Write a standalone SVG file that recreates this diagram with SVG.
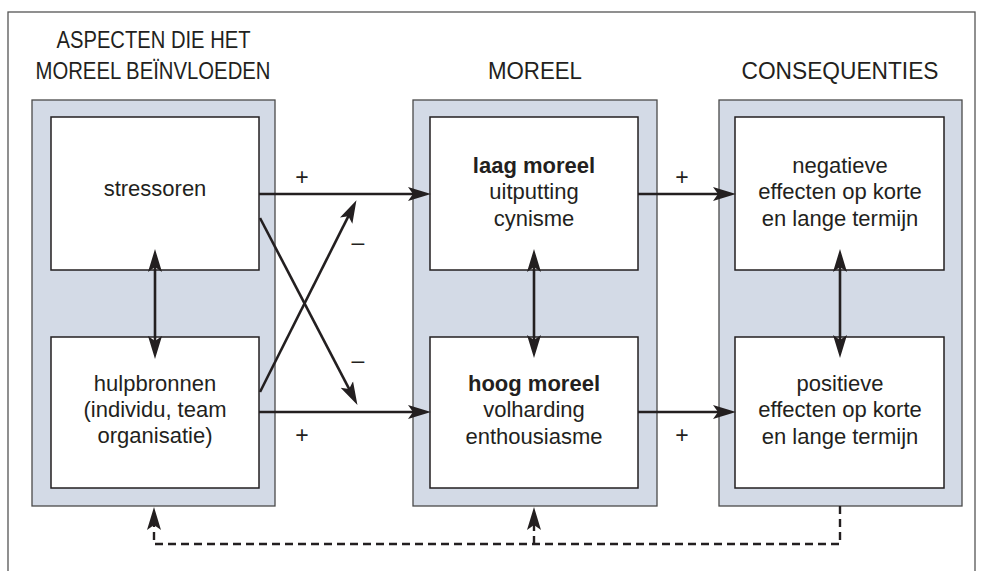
<svg xmlns="http://www.w3.org/2000/svg" width="983" height="571" viewBox="0 0 983 571">
<style>
  .frame{fill:none;stroke:#555;stroke-width:1.3}
  .panel{fill:#d3dae6;stroke:#4a4a4a;stroke-width:1.3}
  .box{fill:#fff;stroke:#231f20;stroke-width:1.5}
  .head{font-family:"Liberation Sans",Arial,sans-serif;font-size:24px;fill:#231f20;text-anchor:middle}
  .txt{font-family:"Liberation Sans",Arial,sans-serif;font-size:22px;fill:#231f20;text-anchor:middle}
  .b{font-weight:bold}
  .sign{font-family:"Liberation Sans",Arial,sans-serif;font-size:23px;fill:#231f20;text-anchor:middle}
  .ln{fill:none;stroke:#231f20;stroke-width:2.6}
  .dash{fill:none;stroke:#231f20;stroke-width:2.4;stroke-dasharray:8 5}
</style>
<defs>
  <marker id="ah" markerWidth="25" markerHeight="15" refX="16" refY="7.5" orient="auto-start-reverse" markerUnits="userSpaceOnUse">
    <path d="M0,0.5 L23,7.5 L0,14.5 L5,7.5 Z" fill="#231f20"/>
  </marker>
</defs>
<rect class="frame" x="8" y="12" width="967" height="575"/>

<g id="headings">
  <text class="head" x="153.5" y="48" textLength="194" lengthAdjust="spacingAndGlyphs">ASPECTEN DIE HET</text>
  <text class="head" x="153" y="79" textLength="235" lengthAdjust="spacingAndGlyphs">MOREEL BEÏNVLOEDEN</text>
  <text class="head" x="535" y="79" textLength="94" lengthAdjust="spacingAndGlyphs">MOREEL</text>
  <text class="head" x="840" y="79" textLength="197" lengthAdjust="spacingAndGlyphs">CONSEQUENTIES</text>
</g>

<g id="panel-aspecten"><rect class="panel" x="32" y="100" width="243" height="406"/></g>
<g id="panel-moreel"><rect class="panel" x="413" y="100" width="244" height="406"/></g>
<g id="panel-consequenties"><rect class="panel" x="719" y="100" width="243" height="406"/></g>

<g id="stressoren">
  <rect class="box" x="51" y="117" width="208" height="153"/>
  <text class="txt" x="155" y="196">stressoren</text>
</g>
<g id="hulpbronnen">
  <rect class="box" x="51" y="337" width="208" height="151"/>
  <text class="txt" x="155" y="391">hulpbronnen</text>
  <text class="txt" x="155" y="417">(individu, team</text>
  <text class="txt" x="155" y="443">organisatie)</text>
</g>
<g id="laag-moreel">
  <rect class="box" x="430" y="117" width="208" height="153"/>
  <text class="txt b" x="534" y="173">laag moreel</text>
  <text class="txt" x="534" y="199">uitputting</text>
  <text class="txt" x="534" y="226">cynisme</text>
</g>
<g id="hoog-moreel">
  <rect class="box" x="430" y="337" width="208" height="151"/>
  <text class="txt b" x="534" y="391">hoog moreel</text>
  <text class="txt" x="534" y="417">volharding</text>
  <text class="txt" x="534" y="444">enthousiasme</text>
</g>
<g id="negatieve">
  <rect class="box" x="735" y="117" width="209" height="153"/>
  <text class="txt" x="840" y="173">negatieve</text>
  <text class="txt" x="840" y="199">effecten op korte</text>
  <text class="txt" x="840" y="226">en lange termijn</text>
</g>
<g id="positieve">
  <rect class="box" x="735" y="337" width="209" height="151"/>
  <text class="txt" x="840" y="391">positieve</text>
  <text class="txt" x="840" y="417">effecten op korte</text>
  <text class="txt" x="840" y="444">en lange termijn</text>
</g>

<g id="connectors">
  <path class="ln" d="M259,194 H424" marker-end="url(#ah)"/>
  <path class="ln" d="M259,412 H424" marker-end="url(#ah)"/>
  <path class="ln" d="M260,218 L354.2,398.7" marker-end="url(#ah)"/>
  <path class="ln" d="M260,392 L353.3,206.4" marker-end="url(#ah)"/>
  <path class="ln" d="M638,194 H729" marker-end="url(#ah)"/>
  <path class="ln" d="M638,412 H729" marker-end="url(#ah)"/>
  <path class="ln" d="M155,256 V352" marker-start="url(#ah)" marker-end="url(#ah)"/>
  <path class="ln" d="M534,256 V351" marker-start="url(#ah)" marker-end="url(#ah)"/>
  <path class="ln" d="M840,256 V351" marker-start="url(#ah)" marker-end="url(#ah)"/>
  <path class="dash" d="M840,506 V544 H154 V514" marker-end="url(#ah)"/>
  <path class="dash" d="M534,544 V514" marker-end="url(#ah)"/>
  <text class="sign" x="302" y="185">+</text>
  <text class="sign" x="358" y="250">–</text>
  <text class="sign" x="358" y="368">–</text>
  <text class="sign" x="302" y="443">+</text>
  <text class="sign" x="682" y="185">+</text>
  <text class="sign" x="682" y="443">+</text>
</g>
</svg>
